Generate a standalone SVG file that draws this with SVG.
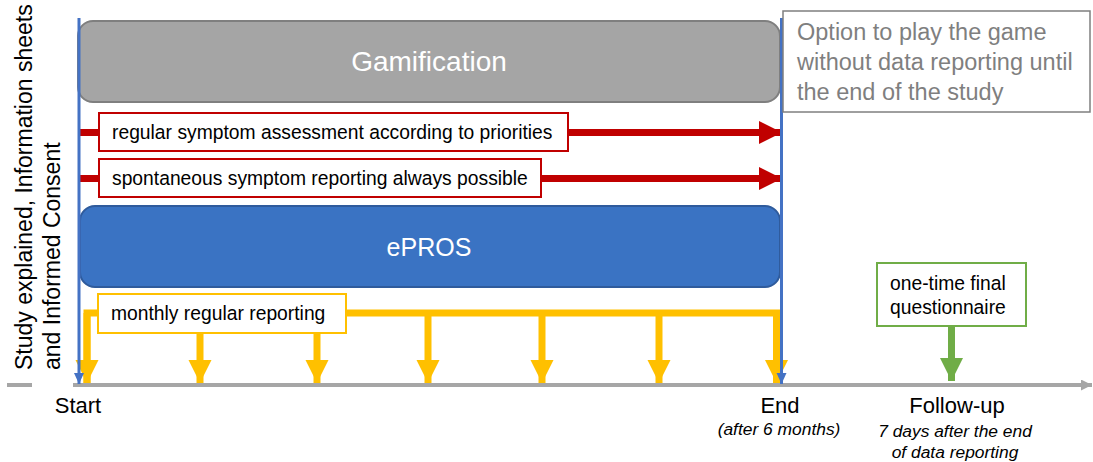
<svg xmlns="http://www.w3.org/2000/svg" width="1093" height="462" viewBox="0 0 1093 462">
<style>
text{font-family:"Liberation Sans",Arial,sans-serif;}
.lbl{font-size:19.3px;fill:#000;}
.big{font-size:22px;fill:#000;}
.rot{font-size:23px;fill:#000;}
.it{font-size:17.4px;font-style:italic;fill:#000;}
.opt{font-size:23.5px;fill:#7f7f7f;}
.title{font-size:28px;fill:#fff;}
.red{stroke:#c00000;stroke-width:7;fill:none;}
.yel{stroke:#ffc000;stroke-width:7;fill:none;}
.blue{stroke:#4472c4;stroke-width:3;fill:none;}
</style>
<defs>
<marker id="ah-red" markerWidth="24" markerHeight="24" refX="23" refY="11.5" markerUnits="userSpaceOnUse" orient="auto"><path d="M0,0 L23,11.5 L0,23 Z" fill="#c00000"/></marker>
<marker id="ah-yel" markerWidth="24" markerHeight="24" refX="23" refY="11.5" markerUnits="userSpaceOnUse" orient="auto"><path d="M0,0 L23,11.5 L0,23 Z" fill="#ffc000"/></marker>
<marker id="ah-green" markerWidth="24" markerHeight="24" refX="23" refY="11.5" markerUnits="userSpaceOnUse" orient="auto"><path d="M0,0 L23,11.5 L0,23 Z" fill="#70ad47"/></marker>
<marker id="ah-blue" markerWidth="12" markerHeight="12" refX="11" refY="5" markerUnits="userSpaceOnUse" orient="auto"><path d="M0,0 L11,5 L0,10 Z" fill="#4472c4"/></marker>
<marker id="ah-gray" markerWidth="12" markerHeight="12" refX="11" refY="5.5" markerUnits="userSpaceOnUse" orient="auto"><path d="M0,0 L11,5.5 L0,11 Z" fill="#a6a6a6"/></marker>
</defs>

<g id="timeline">
<line x1="7" y1="385" x2="1092" y2="385" stroke="#a6a6a6" stroke-width="4" marker-end="url(#ah-gray)"/>
</g>

<g id="side-label">
<rect x="32" y="0" width="41" height="390" fill="#fff"/>
<text class="rot" transform="translate(32,370) rotate(-90)">Study explained, Information sheets</text>
<text class="rot" transform="translate(60,370) rotate(-90)">and Informed Consent</text>
</g>

<g id="gamification">
<rect x="78" y="21" width="702" height="81" rx="15" fill="#a5a5a5" stroke="#7f7f7f" stroke-width="2"/>
<text class="title" x="429" y="71" text-anchor="middle">Gamification</text>
</g>

<g id="epros">
<rect x="80" y="206" width="700" height="81" rx="15" fill="#3a73c3" stroke="#2f5b9c" stroke-width="2"/>
<text class="title" x="429" y="256" text-anchor="middle" style="font-size:25px">ePROS</text>
</g>

<g id="connectors">
<line class="red" x1="80" y1="132.5" x2="782" y2="132.5" marker-end="url(#ah-red)"/>
<line class="red" x1="80" y1="178.5" x2="782" y2="178.5" marker-end="url(#ah-red)"/>
<polyline class="yel" points="98,313 87,313 87,383"/>
<line class="yel" x1="346" y1="313" x2="780" y2="313"/>
<line class="yel" x1="87" y1="313" x2="87" y2="383" marker-end="url(#ah-yel)"/>
<line class="yel" x1="200" y1="333" x2="200" y2="383" marker-end="url(#ah-yel)"/>
<line class="yel" x1="317" y1="313" x2="317" y2="383" marker-end="url(#ah-yel)"/>
<line class="yel" x1="428" y1="313" x2="428" y2="383" marker-end="url(#ah-yel)"/>
<line class="yel" x1="542" y1="313" x2="542" y2="383" marker-end="url(#ah-yel)"/>
<line class="yel" x1="659" y1="313" x2="659" y2="383" marker-end="url(#ah-yel)"/>
<line class="yel" x1="776.5" y1="310" x2="776.5" y2="383" marker-end="url(#ah-yel)"/>
<line x1="951.5" y1="326" x2="951.5" y2="381" stroke="#70ad47" stroke-width="7" marker-end="url(#ah-green)"/>
<line class="blue" x1="79" y1="18" x2="79" y2="384" marker-end="url(#ah-blue)"/>
<line class="blue" x1="781.5" y1="18" x2="781.5" y2="384" marker-end="url(#ah-blue)"/>
</g>

<g id="regular-assessment">
<rect x="99" y="113" width="469" height="38" fill="#fff" stroke="#c00000" stroke-width="2"/>
<text class="lbl" x="112" y="138.5">regular symptom assessment according to priorities</text>
</g>

<g id="spontaneous-reporting">
<rect x="99" y="159" width="442" height="38" fill="#fff" stroke="#c00000" stroke-width="2"/>
<text class="lbl" x="112" y="184.5">spontaneous symptom reporting always possible</text>
</g>

<g id="monthly-reporting">
<rect x="98" y="294" width="248" height="39" fill="#fff" stroke="#ffc000" stroke-width="2"/>
<text class="lbl" x="111" y="320">monthly regular reporting</text>
</g>

<g id="option-box">
<rect x="783" y="11" width="307" height="101" fill="#fff" stroke="#7f7f7f" stroke-width="1.5"/>
<text class="opt" x="797" y="40">Option to play the game</text>
<text class="opt" x="797" y="70">without data reporting until</text>
<text class="opt" x="797" y="100">the end of the study</text>
</g>

<g id="final-questionnaire">
<rect x="877" y="263" width="149" height="63" fill="#fff" stroke="#70ad47" stroke-width="2"/>
<text class="lbl" x="890" y="290">one-time final</text>
<text class="lbl" x="890" y="314">questionnaire</text>
</g>

<g id="start-label">
<text class="big" x="78" y="413" text-anchor="middle">Start</text>
</g>
<g id="end-label">
<text class="big" x="780" y="413" text-anchor="middle">End</text>
<text class="it" x="779" y="435" text-anchor="middle">(after 6 months)</text>
</g>
<g id="followup-label">
<text class="big" x="957" y="413" text-anchor="middle">Follow-up</text>
<text class="it" x="955" y="437" text-anchor="middle">7 days after the end</text>
<text class="it" x="955" y="458" text-anchor="middle">of data reporting</text>
</g>
</svg>
